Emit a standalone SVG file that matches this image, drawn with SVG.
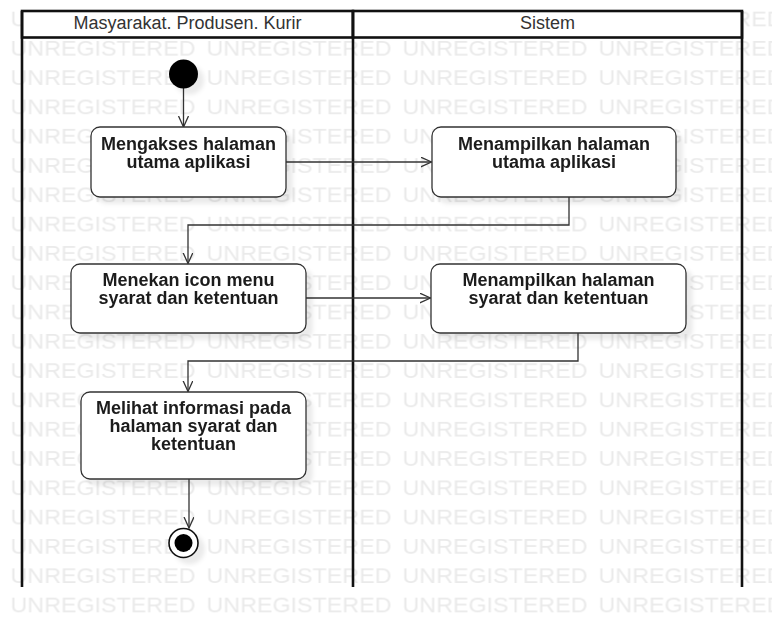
<svg xmlns="http://www.w3.org/2000/svg" width="772" height="617" viewBox="0 0 772 617">
  <style>
    .wm { font-family: "Liberation Sans", Arial, sans-serif; font-size: 21px; fill: #eaeaea; }
    .lane { fill: none; stroke: #111; stroke-width: 2.6; }
    .head { fill: #fff; stroke: #111; stroke-width: 2.6; }
    .title { font-family: "Liberation Sans", Arial, sans-serif; font-size: 18px; fill: #333; text-anchor: middle; }
    .act { fill: #fff; stroke: #333; stroke-width: 1.3; }
    .lbl { font-family: "Liberation Sans", Arial, sans-serif; font-size: 18px; font-weight: bold; fill: #1c1c1c; text-anchor: middle; }
    .flow { fill: none; stroke: #333; stroke-width: 1.3; marker-end: url(#open); }
  </style>
  <defs>
    <marker id="open" viewBox="0 0 12 12" refX="11" refY="5" markerWidth="12" markerHeight="12" markerUnits="userSpaceOnUse" orient="auto">
      <path d="M0,0 L11,5 L0,10" fill="none" stroke="#333" stroke-width="1.3"/>
    </marker>
    <filter id="shadow" x="-20%" y="-20%" width="150%" height="150%">
      <feGaussianBlur in="SourceAlpha" stdDeviation="2"/>
      <feOffset dx="6" dy="6" result="blur"/>
      <feFlood flood-color="#000" flood-opacity="0.08"/>
      <feComposite in2="blur" operator="in"/>
      <feMerge>
        <feMergeNode/>
        <feMergeNode in="SourceGraphic"/>
      </feMerge>
    </filter>
    <pattern id="wmTile" patternUnits="userSpaceOnUse" x="10.5" y="-2" width="196" height="29.3">
      <text class="wm" x="0" y="28.5" textLength="185" lengthAdjust="spacingAndGlyphs">UNREGISTERED</text>
    </pattern>
  </defs>

  <rect width="772" height="617" fill="#fff"/>
  <!-- background watermark rows -->
  <rect width="772" height="617" fill="url(#wmTile)"/>

  <!-- swimlanes -->
  <g id="lanes">
    <rect class="head" x="22" y="11" width="331" height="26.5"/>
    <rect class="head" x="353" y="11" width="389" height="26.5"/>
    <path class="lane" d="M22,11 V587 M353,11 V587 M742,11 V587"/>
    <text class="title" x="187.5" y="29">Masyarakat. Produsen. Kurir</text>
    <text class="title" x="547.5" y="29">Sistem</text>
  </g>

  <!-- connectors -->
  <g id="connectors">
    <path class="flow" d="M183.5,88 V127"/>
    <path class="flow" d="M286,162 H431.5"/>
    <path class="flow" d="M569,197 V225 H188 V263.5"/>
    <path class="flow" d="M306,298 H430.5"/>
    <path class="flow" d="M578,333 V361 H188 V391.5"/>
    <path class="flow" d="M189,479 V528"/>
  </g>

  <g id="start" filter="url(#shadow)">
    <circle cx="183.5" cy="74" r="14.5" fill="#000"/>
  </g>

  <g id="akses" filter="url(#shadow)">
    <rect class="act" x="91" y="127" width="195" height="70" rx="9"/>
    <text class="lbl" x="188.5" y="149.5">Mengakses halaman</text>
    <text class="lbl" x="188.5" y="167.5">utama aplikasi</text>
  </g>

  <g id="tampil-utama" filter="url(#shadow)">
    <rect class="act" x="432" y="127" width="244" height="70" rx="9"/>
    <text class="lbl" x="554" y="149.5">Menampilkan halaman</text>
    <text class="lbl" x="554" y="167.5">utama aplikasi</text>
  </g>

  <g id="tekan-menu" filter="url(#shadow)">
    <rect class="act" x="71" y="264" width="235" height="69" rx="9"/>
    <text class="lbl" x="188.5" y="286">Menekan icon menu</text>
    <text class="lbl" x="188.5" y="304">syarat dan ketentuan</text>
  </g>

  <g id="tampil-syarat" filter="url(#shadow)">
    <rect class="act" x="431" y="264" width="255" height="69" rx="9"/>
    <text class="lbl" x="558.5" y="286">Menampilkan halaman</text>
    <text class="lbl" x="558.5" y="304">syarat dan ketentuan</text>
  </g>

  <g id="lihat-info" filter="url(#shadow)">
    <rect class="act" x="81" y="392" width="225" height="87" rx="9"/>
    <text class="lbl" x="193.5" y="413.5">Melihat informasi pada</text>
    <text class="lbl" x="193.5" y="431.5">halaman syarat dan</text>
    <text class="lbl" x="193.5" y="449.5">ketentuan</text>
  </g>

  <g id="end" filter="url(#shadow)">
    <circle cx="183.5" cy="543" r="14.5" fill="#fff" stroke="#111" stroke-width="1.6"/>
    <circle cx="183.5" cy="543" r="9" fill="#000"/>
  </g>
</svg>
